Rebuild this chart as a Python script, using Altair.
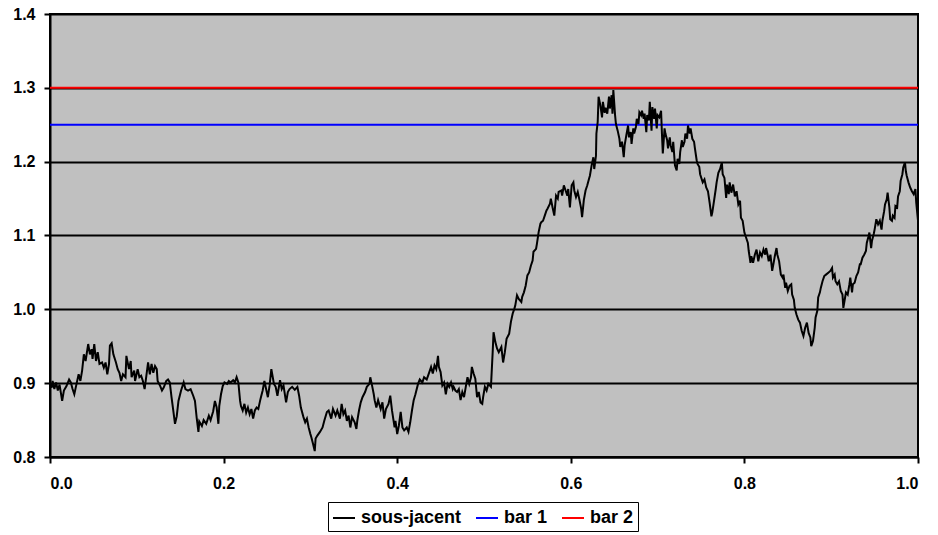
import altair as alt
import pandas as pd

# Underlying asset path: time (0..1) and level
t = [
    0.000, 0.002, 0.003, 0.005, 0.007, 0.009, 0.011, 0.014, 0.016, 0.019,
    0.022, 0.024, 0.026, 0.028, 0.030, 0.033, 0.035, 0.037, 0.039, 0.041,
    0.044, 0.046, 0.048, 0.049, 0.051, 0.053, 0.055, 0.057, 0.060, 0.062,
    0.064, 0.066, 0.068, 0.069, 0.071, 0.073, 0.076, 0.078, 0.080, 0.082,
    0.084, 0.087, 0.088, 0.091, 0.093, 0.094, 0.097, 0.098, 0.101, 0.103,
    0.105, 0.107, 0.109, 0.111, 0.113, 0.115, 0.117, 0.119, 0.121, 0.123,
    0.124, 0.127, 0.129, 0.131, 0.134, 0.136, 0.138, 0.140, 0.142, 0.144,
    0.146, 0.148, 0.151, 0.154, 0.156, 0.159, 0.162, 0.165, 0.167, 0.169,
    0.171, 0.172, 0.175, 0.177, 0.180, 0.183, 0.185, 0.188, 0.190, 0.192,
    0.194, 0.195, 0.197, 0.199, 0.201, 0.204, 0.206, 0.208, 0.211, 0.213,
    0.215, 0.217, 0.219, 0.220, 0.222, 0.224, 0.226, 0.228, 0.230, 0.232,
    0.234, 0.236, 0.238, 0.240, 0.242, 0.243, 0.245, 0.247,
    0.251, 0.253, 0.255, 0.258, 0.260, 0.262, 0.265, 0.267, 0.269, 0.272,
    0.274, 0.276, 0.279, 0.282, 0.285, 0.287, 0.289, 0.292, 0.294, 0.296,
    0.298, 0.300, 0.301, 0.303, 0.305, 0.306, 0.308, 0.311, 0.314, 0.316,
    0.319, 0.321, 0.324, 0.326, 0.329, 0.331, 0.334, 0.336, 0.338, 0.340,
    0.342, 0.344, 0.346, 0.348, 0.351, 0.353, 0.354, 0.356, 0.358, 0.360,
    0.363, 0.365, 0.368, 0.369, 0.371, 0.373, 0.374, 0.376, 0.378, 0.381,
    0.383, 0.385, 0.387, 0.390, 0.392, 0.394, 0.397, 0.398, 0.400, 0.402,
    0.404, 0.406, 0.408, 0.411, 0.413, 0.415, 0.417, 0.419, 0.421, 0.424,
    0.426, 0.429, 0.431, 0.434, 0.437, 0.439, 0.441, 0.443, 0.445, 0.447,
    0.448, 0.450, 0.452, 0.454, 0.456, 0.458, 0.460, 0.462, 0.464, 0.465,
    0.467, 0.469, 0.471, 0.473, 0.475, 0.477, 0.479, 0.481, 0.483, 0.485,
    0.486, 0.488, 0.490, 0.492, 0.494, 0.496, 0.498, 0.499, 0.501, 0.503,
    0.505, 0.508, 0.510, 0.511, 0.513, 0.515, 0.517, 0.520, 0.522, 0.524,
    0.526, 0.529, 0.531, 0.533, 0.535, 0.536, 0.538, 0.540, 0.543, 0.544,
    0.546, 0.548, 0.550, 0.552, 0.554, 0.556, 0.557, 0.560, 0.561, 0.563,
    0.565, 0.566, 0.568, 0.570, 0.572, 0.573, 0.576, 0.577, 0.579, 0.581,
    0.583, 0.585, 0.586, 0.589, 0.590, 0.592, 0.594, 0.596, 0.597, 0.599,
    0.601, 0.603, 0.604, 0.606, 0.608, 0.610, 0.612, 0.613, 0.615, 0.617,
    0.619, 0.621, 0.622, 0.624, 0.626, 0.627, 0.629, 0.6295, 0.631, 0.632,
    0.634, 0.636, 0.637, 0.639, 0.640, 0.642, 0.644, 0.645, 0.647, 0.648,
    0.649, 0.651, 0.652, 0.654, 0.656, 0.657, 0.659, 0.661, 0.662, 0.664,
    0.666, 0.667, 0.669, 0.670, 0.672, 0.673, 0.675, 0.676, 0.678, 0.679,
    0.681, 0.682, 0.684, 0.685, 0.687, 0.688, 0.690, 0.691, 0.693, 0.694,
    0.696, 0.697, 0.699, 0.700, 0.702, 0.704, 0.705, 0.706, 0.708, 0.709,
    0.711, 0.712, 0.714, 0.715, 0.717, 0.718, 0.720, 0.722, 0.723, 0.725,
    0.726, 0.728, 0.729, 0.731, 0.732, 0.734, 0.735, 0.737, 0.738, 0.740,
    0.742, 0.743, 0.745, 0.746, 0.748,
    0.749, 0.752, 0.754, 0.756, 0.758, 0.760, 0.762, 0.763, 0.765, 0.767,
    0.768, 0.770, 0.772, 0.774, 0.775, 0.777, 0.779, 0.780, 0.782, 0.783,
    0.785, 0.787, 0.789, 0.791, 0.793, 0.795, 0.796, 0.798, 0.800, 0.802,
    0.804, 0.805, 0.807, 0.808, 0.810, 0.812, 0.814, 0.816, 0.818, 0.820,
    0.822, 0.824, 0.825, 0.827, 0.828, 0.830, 0.832, 0.834, 0.835, 0.837,
    0.838, 0.840, 0.842, 0.844, 0.845, 0.847, 0.848, 0.850, 0.852, 0.854,
    0.855, 0.857, 0.858, 0.860, 0.862, 0.864, 0.866, 0.868, 0.870, 0.872,
    0.874, 0.876, 0.877, 0.879, 0.881, 0.882, 0.884, 0.885, 0.887, 0.888,
    0.890, 0.892, 0.894, 0.897, 0.899, 0.901, 0.902, 0.904, 0.905, 0.907,
    0.909, 0.911, 0.913, 0.914, 0.916, 0.917, 0.919, 0.921, 0.922, 0.924,
    0.925, 0.927, 0.929, 0.931, 0.933, 0.934, 0.936, 0.938, 0.940, 0.941,
    0.943, 0.944, 0.946, 0.947, 0.949, 0.950, 0.952, 0.954, 0.956, 0.958,
    0.959, 0.961, 0.962, 0.964, 0.965, 0.967, 0.968, 0.970, 0.971, 0.973,
    0.974, 0.976, 0.977, 0.979, 0.980, 0.982, 0.983, 0.985, 0.986, 0.987,
    0.989, 0.991, 0.993, 0.995, 0.997, 0.998, 1.000,
]
level = [
    0.900, 0.894, 0.903, 0.892, 0.901, 0.890, 0.898, 0.876, 0.890, 0.896,
    0.905, 0.901, 0.892, 0.885, 0.896, 0.912, 0.903, 0.917, 0.939, 0.930,
    0.953, 0.939, 0.946, 0.933, 0.953, 0.930, 0.942, 0.926, 0.928, 0.921,
    0.928, 0.912, 0.926, 0.951, 0.954, 0.939, 0.928, 0.919, 0.914, 0.903,
    0.912, 0.908, 0.937, 0.919, 0.930, 0.908, 0.917, 0.903, 0.919, 0.908,
    0.910, 0.903, 0.892, 0.910, 0.928, 0.912, 0.926, 0.914, 0.923, 0.919,
    0.903, 0.896, 0.890, 0.894, 0.903, 0.905, 0.901, 0.881, 0.863, 0.845,
    0.855, 0.876, 0.890, 0.901, 0.892, 0.890, 0.892, 0.883, 0.876, 0.853,
    0.834, 0.848, 0.842, 0.850, 0.845, 0.856, 0.850, 0.862, 0.876, 0.867,
    0.845, 0.869, 0.885, 0.896, 0.901, 0.899, 0.903, 0.901, 0.904, 0.901,
    0.908, 0.901, 0.876, 0.869, 0.863, 0.872, 0.860, 0.867, 0.858, 0.865,
    0.852, 0.863, 0.867, 0.865, 0.876, 0.881, 0.890, 0.903,
    0.881, 0.897, 0.919, 0.899, 0.895, 0.883, 0.904, 0.892, 0.897, 0.874,
    0.888, 0.892, 0.895, 0.891, 0.895, 0.883, 0.867, 0.854, 0.847, 0.852,
    0.840, 0.831, 0.827, 0.818, 0.808, 0.825, 0.829, 0.834, 0.840, 0.849,
    0.861, 0.863, 0.852, 0.865, 0.856, 0.863, 0.852, 0.872, 0.858, 0.863,
    0.849, 0.856, 0.840, 0.854, 0.847, 0.838, 0.849, 0.863, 0.874, 0.881,
    0.888, 0.895, 0.899, 0.908, 0.897, 0.885, 0.877, 0.867, 0.877, 0.865,
    0.874, 0.852, 0.865, 0.872, 0.883, 0.863, 0.840, 0.849, 0.831, 0.843,
    0.861, 0.840, 0.836, 0.840, 0.834, 0.847, 0.863, 0.877, 0.885, 0.899,
    0.905, 0.901, 0.908, 0.905, 0.915, 0.922, 0.913, 0.924, 0.919, 0.937,
    0.922, 0.915, 0.897, 0.901, 0.885, 0.899, 0.895, 0.901, 0.892, 0.895,
    0.890, 0.888, 0.892, 0.877, 0.888, 0.881, 0.895, 0.908, 0.899, 0.908,
    0.922, 0.913, 0.906, 0.881, 0.888, 0.874, 0.872, 0.881, 0.895, 0.890,
    0.899, 0.895, 0.942, 0.969, 0.956, 0.947, 0.942, 0.949, 0.928, 0.942,
    0.960, 0.967, 0.983, 0.994, 1.001, 1.005, 1.019, 1.014, 1.010, 1.017,
    1.023, 1.032, 1.046, 1.050, 1.059, 1.066, 1.078, 1.082, 1.089, 1.105,
    1.116, 1.118, 1.120, 1.127, 1.134, 1.136, 1.143, 1.150, 1.138, 1.127,
    1.154, 1.150, 1.159, 1.161, 1.154, 1.168, 1.161, 1.154, 1.163, 1.138,
    1.168, 1.172, 1.161, 1.152, 1.159, 1.148, 1.136, 1.125, 1.148, 1.161,
    1.168, 1.177, 1.181, 1.195, 1.206, 1.190, 1.208, 1.238, 1.254, 1.288,
    1.277, 1.260, 1.281, 1.266, 1.273, 1.265, 1.288, 1.272, 1.290, 1.265,
    1.297, 1.263, 1.251, 1.242, 1.231, 1.220, 1.227, 1.206, 1.222, 1.236,
    1.249, 1.233, 1.240, 1.224, 1.245, 1.238, 1.247, 1.258, 1.251, 1.267,
    1.263, 1.269, 1.258, 1.265, 1.240, 1.263, 1.256, 1.281, 1.242, 1.274,
    1.258, 1.272, 1.245, 1.263, 1.260, 1.269, 1.238, 1.211, 1.245, 1.238,
    1.229, 1.218, 1.233, 1.222, 1.213, 1.227, 1.195, 1.188, 1.204, 1.197,
    1.213, 1.229, 1.220, 1.227, 1.238, 1.231, 1.249, 1.238, 1.245, 1.231,
    1.227, 1.218, 1.202, 1.197, 1.193,
    1.183, 1.172, 1.176, 1.165, 1.160, 1.144, 1.126, 1.131, 1.147, 1.163,
    1.172, 1.185, 1.190, 1.199, 1.183, 1.178, 1.151, 1.169, 1.156, 1.172,
    1.158, 1.169, 1.153, 1.160, 1.142, 1.147, 1.124, 1.120, 1.104, 1.097,
    1.090, 1.079, 1.063, 1.072, 1.063, 1.074, 1.081, 1.065, 1.077, 1.072,
    1.081, 1.074, 1.083, 1.072, 1.065, 1.074, 1.052, 1.065, 1.072, 1.083,
    1.074, 1.065, 1.047, 1.043, 1.047, 1.029, 1.036, 1.025, 1.032, 1.034,
    1.020, 1.013, 1.002, 0.993, 0.986, 0.982, 0.971, 0.964, 0.975, 0.982,
    0.968, 0.962, 0.950, 0.957, 0.975, 0.989, 0.998, 1.016, 1.023, 1.029,
    1.038, 1.045, 1.047, 1.050, 1.052, 1.056, 1.043, 1.047, 1.038, 1.034,
    1.038, 1.025, 1.020, 1.002, 1.016, 1.023, 1.020, 1.034, 1.043, 1.023,
    1.034, 1.036, 1.045, 1.050, 1.061, 1.061, 1.070, 1.074, 1.079, 1.090,
    1.099, 1.104, 1.083, 1.093, 1.102, 1.108, 1.122, 1.115, 1.120, 1.108,
    1.120, 1.133, 1.142, 1.149, 1.158, 1.138, 1.122, 1.120, 1.127, 1.124,
    1.140, 1.138, 1.153, 1.160, 1.174, 1.183, 1.192, 1.199, 1.187, 1.181,
    1.172, 1.165, 1.160, 1.156, 1.163, 1.144, 1.120,
]

# Barrier levels
barrier_names = ["bar 1", "bar 2"]
barrier_levels = [1.25, 1.30]

series_names = ["sous-jacent", "bar 1", "bar 2"]
series_colors = ["#000000", "#0000FF", "#FF0000"]

path = pd.DataFrame({"t": t, "v": level, "serie": "sous-jacent"})
path["i"] = range(len(path))

bars = pd.DataFrame(
    [{"t": tt, "v": lv, "serie": nm, "i": k}
     for nm, lv in zip(barrier_names, barrier_levels)
     for k, tt in enumerate([0.0, 1.0])]
)

font = "Liberation Sans"

x_enc = alt.X(
    "t:Q",
    scale=alt.Scale(domain=[0, 1], nice=False, zero=False),
    axis=alt.Axis(
        values=[0, 0.2, 0.4, 0.6, 0.8, 1.0], format=".1f", title=None,
        grid=False, domainColor="black", domainWidth=2, tickColor="black",
        tickWidth=2, tickSize=6, labelFont=font, labelFontSize=16,
        labelFontWeight="bold", labelColor="black", labelPadding=12,
    ),
)
y_enc = alt.Y(
    "v:Q",
    scale=alt.Scale(domain=[0.8, 1.4], nice=False, zero=False),
    axis=alt.Axis(
        values=[0.8, 0.9, 1.0, 1.1, 1.2, 1.3, 1.4], format=".1f", title=None,
        grid=True, gridColor="black", gridWidth=2, gridOpacity=1,
        domainColor="black", domainWidth=2, tickColor="black", tickWidth=2,
        tickSize=6, labelFont=font, labelFontSize=16, labelFontWeight="bold",
        labelColor="black", labelPadding=9,
    ),
)
color_enc = alt.Color(
    "serie:N",
    scale=alt.Scale(domain=series_names, range=series_colors),
    legend=alt.Legend(
        title=None, orient="none", legendX=278, legendY=488,
        direction="horizontal", columns=3, symbolType="stroke",
        symbolSize=484, symbolStrokeWidth=2, labelFont=font,
        labelFontSize=18, labelFontWeight="bold", labelColor="black",
        labelOffset=5, columnPadding=10, padding=4, strokeColor="black",
        fillColor="white", symbolOffset=0,
    ),
)

bar_layer = alt.Chart(bars).mark_line(strokeWidth=2).encode(
    x=x_enc, y=y_enc, color=color_enc, detail="serie:N", order="i:Q"
)
path_layer = alt.Chart(path).mark_line(strokeWidth=2).encode(
    x=x_enc, y=y_enc, color=color_enc, order="i:Q"
)

chart = (
    alt.layer(bar_layer, path_layer)
    .properties(
        width=868, height=443,
        autosize=alt.AutoSizeParams(type="none"),
        padding={"left": 50, "top": 14, "right": 20, "bottom": 78},
        background="white",
    )
    .configure_view(fill="#C0C0C0", stroke="black", strokeWidth=2)
)

chart.save("out.html", embed_options={"renderer": "svg", "actions": False})
